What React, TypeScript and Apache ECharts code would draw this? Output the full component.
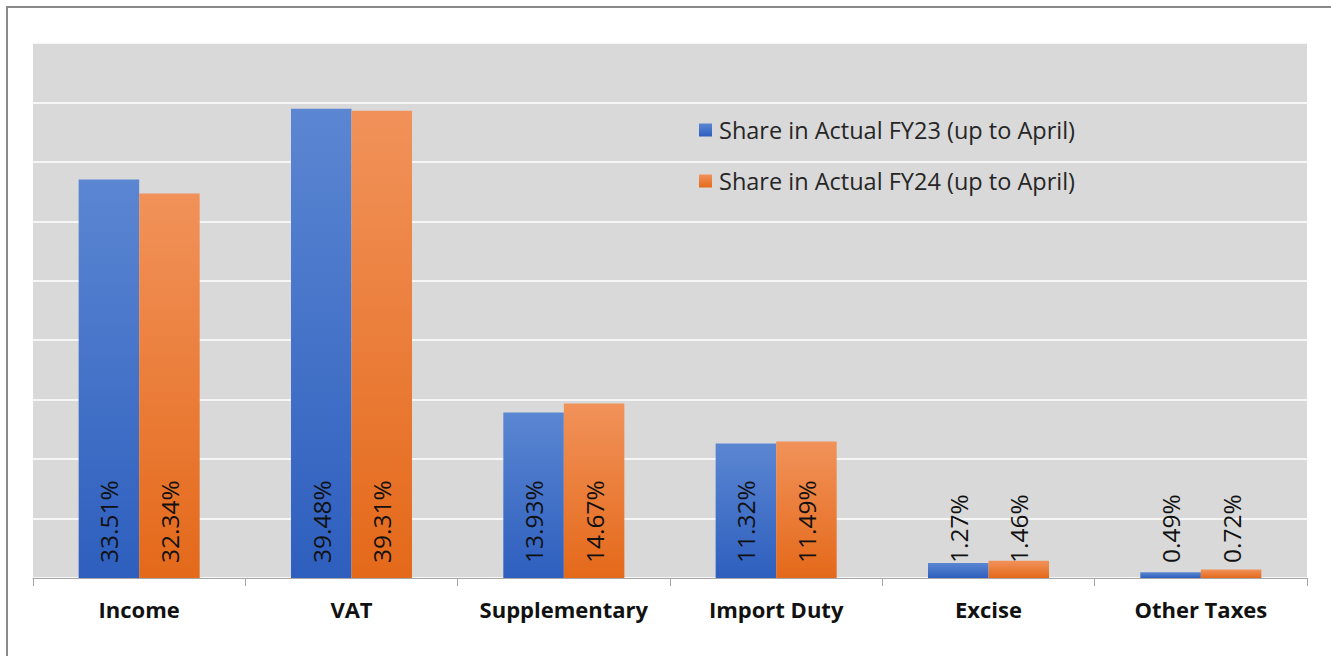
import React, { useEffect, useRef } from "react";
import * as echarts from "echarts";

const categories = ["Income", "VAT", "Supplementary", "Import Duty", "Excise", "Other Taxes"];
const fy23 = [33.51, 39.48, 13.93, 11.32, 1.27, 0.49];
const fy24 = [32.34, 39.31, 14.67, 11.49, 1.46, 0.72];
const seriesNames = ["Share in Actual FY23 (up to April)", "Share in Actual FY24 (up to April)"];

const FONT = "'Open Sans', Lato, sans-serif";

export default function App() {
  const ref = useRef<HTMLDivElement>(null);
  useEffect(() => {
    if (!ref.current) return;
    const chart = echarts.init(ref.current, null, { renderer: "svg" });
    const grad = (top: string, bottom: string) =>
      new echarts.graphic.LinearGradient(0, 0, 0, 1, [
        { offset: 0, color: top },
        { offset: 1, color: bottom },
      ]);
    const label = {
      show: true,
      position: "insideBottom",
      rotate: 90,
      align: "left",
      verticalAlign: "middle",
      distance: 15,
      fontSize: 24.5,
      fontFamily: FONT,
      color: "#111",
      formatter: (p: any) => p.value.toFixed(2) + "%",
    };
    chart.setOption({
      animation: false,
      backgroundColor: "#ffffff",
      graphic: [
        {
          type: "rect",
          shape: { x: 7, y: 7, width: 1330, height: 670 },
          style: { fill: "none", stroke: "#8a8a8a", lineWidth: 2 },
          silent: true,
        },
      ],
      grid: {
        left: 33,
        right: 24,
        top: 43,
        bottom: 78,
        show: true,
        backgroundColor: "#d9d9d9",
        borderWidth: 0,
      },
      legend: {
        orient: "vertical",
        left: 694,
        top: 113,
        itemWidth: 13,
        itemHeight: 13,
        itemGap: 27,
        icon: "rect",
        textStyle: { fontSize: 23.5, fontFamily: FONT, color: "#262626", padding: [0, 0, 0, 2] },
        data: seriesNames,
      },
      xAxis: {
        type: "category",
        data: categories,
        axisLine: { show: true, lineStyle: { color: "#a6a6a6", width: 1 } },
        axisTick: { show: true, interval: 0, length: 8, lineStyle: { color: "#a6a6a6" } },
        axisLabel: {
          interval: 0,
          fontSize: 22,
          fontWeight: "bold",
          fontFamily: FONT,
          color: "#111",
          margin: 20,
        },
      },
      yAxis: {
        type: "value",
        min: 0,
        max: 45,
        interval: 5,
        axisLabel: { show: false },
        axisLine: { show: false },
        axisTick: { show: false },
        splitLine: { show: true, lineStyle: { color: "#ffffff", width: 1.5 } },
      },
      series: [
        {
          name: seriesNames[0],
          type: "bar",
          data: fy23,
          barGap: "0%",
          barCategoryGap: "43%",
          itemStyle: { color: grad("#5b86d2", "#2e5fbe") },
          label,
        },
        {
          name: seriesNames[1],
          type: "bar",
          data: fy24,
          itemStyle: { color: grad("#f1925a", "#e4691a") },
          label,
        },
      ],
    });
    return () => chart.dispose();
  }, []);
  return (
    <div
      ref={ref}
      style={{ position: "absolute", left: 0, top: 0, width: 1331, height: 656 }}
    />
  );
}
